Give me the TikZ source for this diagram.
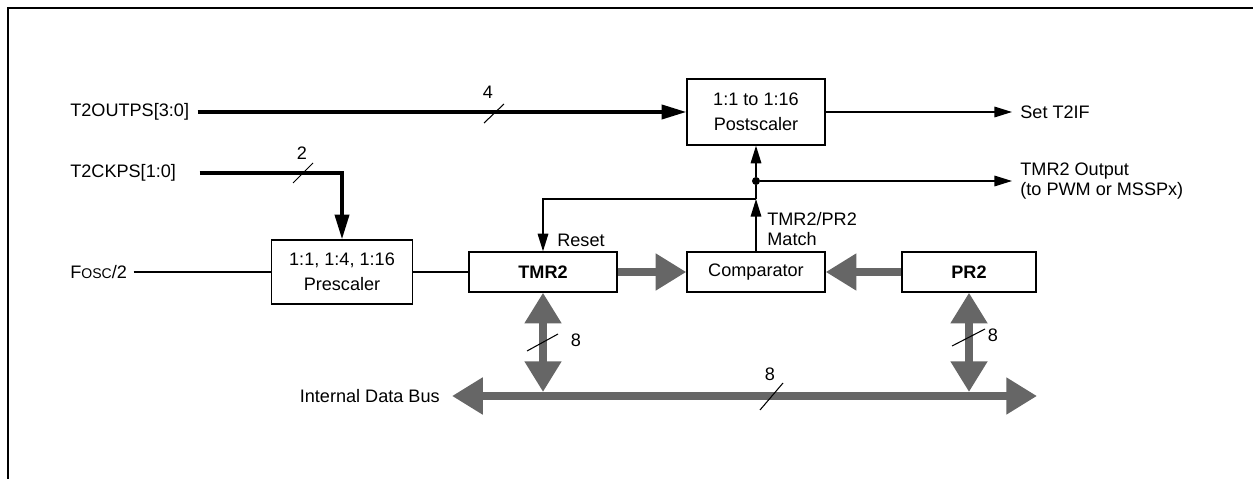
\documentclass[tikz,border=0pt]{standalone}
\usepackage{fontspec}
\setmainfont{Liberation Sans}
\usetikzlibrary{arrows.meta}
\definecolor{busgrey}{HTML}{666666}

\begin{document}
\begin{tikzpicture}[x=0.02cm, y=-0.02cm,
  font=\fontsize{10.3}{11.5}\selectfont,
  blk/.style={draw, line width=0.8pt, align=center, inner sep=0pt, font=\fontsize{10.3}{14.5}\selectfont},
  lbl/.style={inner sep=0pt, align=left},
  sig/.style={line width=0.85pt},
  sarr/.style={-{Triangle[length=10pt,width=6pt]}},
  bsig/.style={line width=2pt, -{Triangle[length=14pt,width=8pt]}},
  busone/.style={line width=4.5pt, draw=busgrey, -{Triangle[length=17.5pt,width=20pt]}},
  bustwo/.style={line width=4.5pt, draw=busgrey, {Triangle[length=17.5pt,width=20pt]}-{Triangle[length=17.5pt,width=20pt]}},
  slash/.style={line width=0.6pt}]
\useasboundingbox (0,0) rectangle (1253,479);
% frame
\draw[line width=1.5pt] (8,479) -- (8,8) -- (1253,8);
% blocks
\node[blk, minimum width=2.76cm, minimum height=1.32cm] (post) at (756,112) {1:1 to 1:16\\Postscaler};
\node[blk, minimum width=2.82cm, minimum height=1.28cm] (pre) at (342,272) {1:1, 1:4, 1:16\\Prescaler};
\node[blk, minimum width=2.96cm, minimum height=0.8cm] (tmr) at (543,272) {\textbf{TMR2}};
\node[blk, minimum width=2.76cm, minimum height=0.8cm] (cmp) at (756,272) {Comparator};
\node[blk, minimum width=2.68cm, minimum height=0.8cm] (pr) at (969,272) {\textbf{PR2}};
% inputs
\node[lbl, anchor=west, text width=2.54cm] (outps) at (70,112) {T2OUTPS[3:0]};
\node[lbl, anchor=west, text width=2.58cm] (ckps) at (70,173) {T2CKPS[1:0]};
\node[lbl, anchor=west, text width=1.26cm] (fosc) at (70,272) {F{\fontsize{8}{9}\selectfont OSC}/2};
\draw[bsig] (outps.east) -- (post.west);
\draw[bsig] (ckps.east) -| (pre.north);
\draw[sig] (fosc.east) -- (pre.west);
\draw[sig] (pre.east) -- (tmr.west);
\node[lbl] (nfour) at (488,92) {4};
\draw[slash] (484,123) -- (504,104);
\node[lbl] (ntwo) at (302,153) {2};
\draw[slash] (293,183) -- (313,163);
% data bus
\coordinate (busl) at (452,396);
\coordinate (busr) at (1037,396);
\draw[bustwo] (busl) -- (busr);
\node[lbl, anchor=east] (ibus) at (440,396) {Internal Data Bus};
\draw[bustwo, shorten >=0.08cm] (tmr.south) -- (tmr.south |- busl);
\draw[bustwo, shorten >=0.08cm] (pr.south) -- (pr.south |- busl);
\draw[busone] (tmr.east) -- (cmp.west);
\draw[busone] (pr.west) -- (cmp.east);
\node[lbl] (neighta) at (576,340) {8};
\draw[slash] (527,351) -- (558,334);
\node[lbl] (neightb) at (993,335) {8};
\draw[slash] (952,346) -- (985,329);
\node[lbl] (neightc) at (770,374) {8};
\draw[slash] (760,410) -- (783,383);
% match and reset
\coordinate (rst) at (cmp.north |- 0,199);
\node[circle, fill, inner sep=0pt, minimum size=0.16cm] (jn) at (cmp.north |- 0,181) {};
\draw[sig, sarr] (cmp.north) -- (rst);
\draw[sig] (rst) -- (jn);
\draw[sig, sarr] (jn) -- (post.south);
\draw[sig, sarr] (rst) -| (tmr.north);
\node[lbl] (rsttxt) at (581,240) {Reset};
\node[lbl, anchor=west] (match) at (767,229) {TMR2/PR2\\Match};
% outputs
\coordinate (setif) at (1012,112);
\coordinate (tmrout) at (1012,181);
\draw[sig, sarr] (post.east) -- (setif);
\draw[sig, sarr] (jn) -- (tmrout);
\node[lbl, anchor=west] (t2if) at (1020,112) {Set T2IF};
\node[lbl, anchor=west] (outtxt) at (1020,181) {TMR2 Output\\(to PWM or MSSPx)};
\end{tikzpicture}
\end{document}
